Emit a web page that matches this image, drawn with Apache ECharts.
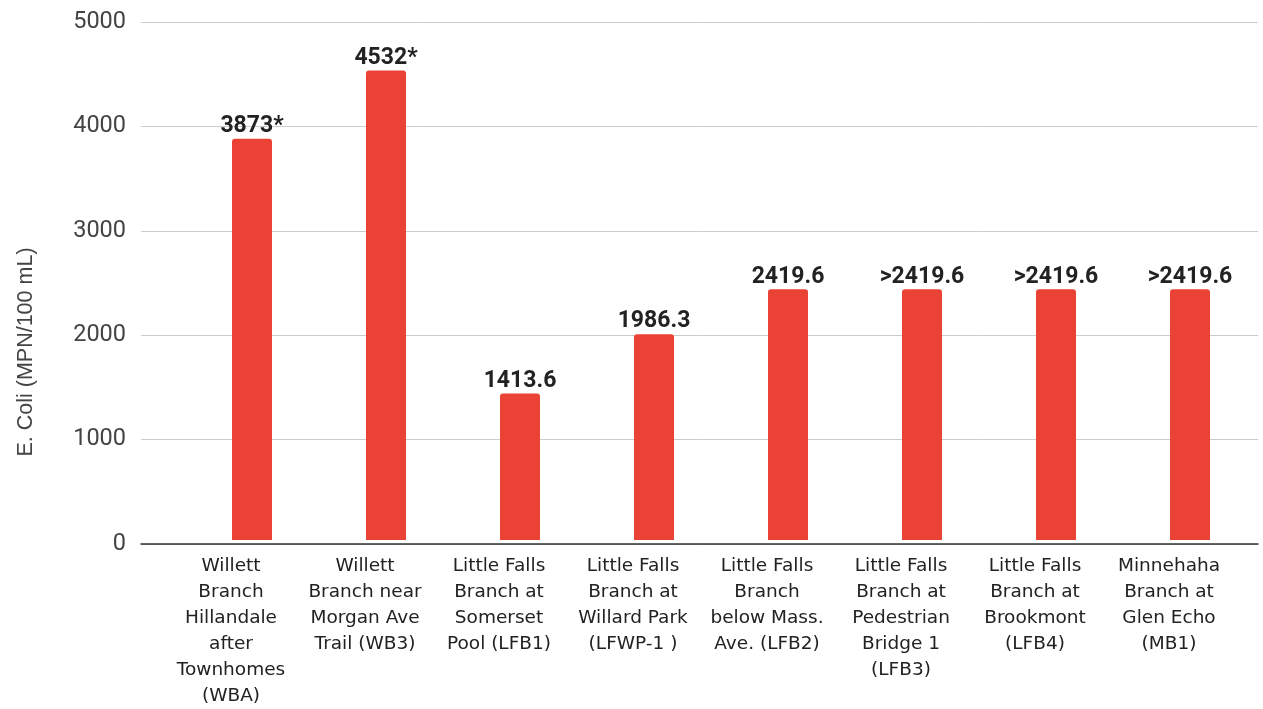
<!DOCTYPE html>
<html lang="en">

<head>
    <meta charset="UTF-8">
    <title>E. Coli by site</title>
    <style>
        html, body { margin: 0; padding: 0; background: #fff; }
        #chart { width: 1263px; height: 709px; }
    </style>
</head>

<body>
    <div id="chart"></div>
</body>

<script src="https://cdn.jsdelivr.net/npm/echarts@6/dist/echarts.min.js"></script>
<script>
    const sites = [
        'Willett\nBranch\nHillandale\nafter\nTownhomes\n(WBA)',
        'Willett\nBranch near\nMorgan Ave\nTrail (WB3)',
        'Little Falls\nBranch at\nSomerset\nPool (LFB1)',
        'Little Falls\nBranch at\nWillard Park\n(LFWP-1 )',
        'Little Falls\nBranch\nbelow Mass.\nAve. (LFB2)',
        'Little Falls\nBranch at\nPedestrian\nBridge 1\n(LFB3)',
        'Little Falls\nBranch at\nBrookmont\n(LFB4)',
        'Minnehaha\nBranch at\nGlen Echo\n(MB1)'
    ];
    const ecoli = [3873, 4532, 1413.6, 1986.3, 2419.6, 2419.6, 2419.6, 2419.6];
    const ecoliLabels = ['3873*', '4532*', '1413.6', '1986.3', '2419.6', '>2419.6', '>2419.6', '>2419.6'];
    const emptySeries = [null, null, null, null, null, null, null, null];
    const yTicks = { min: 0, max: 5000, interval: 1000 };

    function getChartOption() {
        return {
            animation: false,
            grid: [
                { left: 141, right: 5, top: 22, bottom: 165 },
                { left: 164, right: 27, top: 22, bottom: 165 }
            ],
            xAxis: [
                {
                    type: 'category', gridIndex: 0, data: sites,
                    axisLine: { lineStyle: { color: '#333', width: 1.5 } },
                    axisTick: { show: false }, axisLabel: { show: false }
                },
                {
                    type: 'category', gridIndex: 1, data: sites,
                    axisLine: { show: false }, axisTick: { show: false },
                    axisLabel: {
                        interval: 0, margin: 13, color: '#222',
                        fontFamily: 'DejaVu Sans', fontSize: 18.5, lineHeight: 26, align: 'center'
                    }
                }
            ],
            yAxis: [
                {
                    type: 'value', gridIndex: 0, min: yTicks.min, max: yTicks.max, interval: yTicks.interval,
                    name: 'E. Coli (MPN/100 mL)', nameLocation: 'middle', nameGap: 104, nameRotate: 90,
                    nameTextStyle: { fontFamily: 'Liberation Sans', fontSize: 21.5, color: '#444', padding: [0, 138, 0, 0] },
                    axisLine: { show: false }, axisTick: { show: false },
                    axisLabel: {
                        margin: 15, color: '#444', fontFamily: 'Roboto', fontSize: 23.5,
                        formatter: function (v) { return String(v); }
                    },
                    splitLine: { lineStyle: { color: '#ccc', width: 1 } }
                },
                {
                    type: 'value', gridIndex: 1, min: yTicks.min, max: yTicks.max, interval: yTicks.interval,
                    show: false, splitLine: { show: false }
                }
            ],
            series: [
                {
                    type: 'bar', xAxisIndex: 1, yAxisIndex: 1, data: emptySeries,
                    barWidth: 40, barGap: '5%'
                },
                {
                    type: 'bar', xAxisIndex: 1, yAxisIndex: 1, data: ecoli,
                    barWidth: 40, barGap: '5%',
                    itemStyle: { color: '#ea4335', borderRadius: [3, 3, 0, 0] },
                    label: {
                        show: true, position: 'top', distance: 1,
                        fontFamily: 'Roboto', fontWeight: 'bold', fontSize: 23, color: '#222',
                        formatter: function (p) { return ecoliLabels[p.dataIndex]; }
                    }
                }
            ]
        };
    }

    function initChart() {
        let myChart = echarts.init(document.getElementById('chart'));
        myChart.setOption(getChartOption());
        window.onresize = function () {
            myChart.resize();
        };
    }

    initChart();
</script>

</html>
